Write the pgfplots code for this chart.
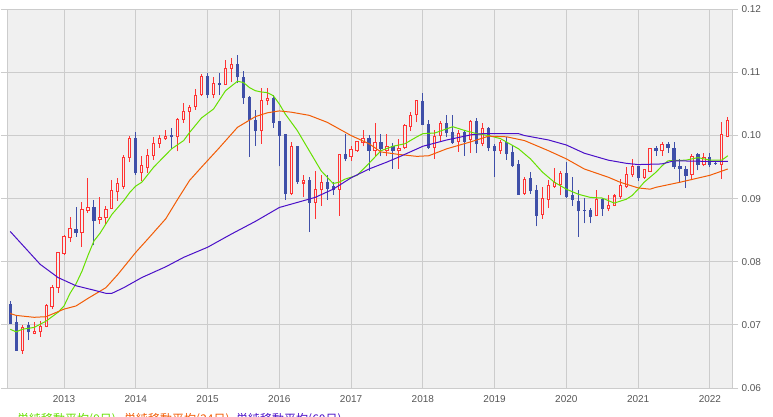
\documentclass[border=0pt]{standalone}
\usepackage{pgfplots}
\usepackage{pgfplotstable}
\pgfplotsset{compat=1.18}
\usepackage{fontspec}
\setmainfont{Liberation Sans}
\newfontfamily\cjk{Noto Sans CJK JP}
\definecolor{bgc}{HTML}{F0F0F0}
\definecolor{gridc}{HTML}{CCCCCC}
\definecolor{labc}{HTML}{555555}
\definecolor{upc}{HTML}{FF3333}
\definecolor{dnc}{HTML}{3F4FA8}
\definecolor{greenc}{HTML}{66E000}
\definecolor{orangec}{HTML}{F25C05}
\definecolor{purplec}{HTML}{4A0FC8}
\pgfplotstableread{
i o h l c
2 0.0659 0.0700 0.0654 0.0697
4 0.0686 0.0704 0.0685 0.0690
5 0.0688 0.0706 0.0681 0.0698
6 0.0697 0.0733 0.0696 0.0732
7 0.0728 0.0763 0.0725 0.0760
8 0.0758 0.0816 0.0751 0.0815
9 0.0812 0.0843 0.0811 0.0841
10 0.0837 0.0871 0.0831 0.0853
12 0.0846 0.0894 0.0824 0.0884
13 0.0881 0.0932 0.0878 0.0887
15 0.0866 0.0902 0.0860 0.0871
16 0.0869 0.0888 0.0860 0.0884
17 0.0884 0.0930 0.0884 0.0913
18 0.0910 0.0932 0.0897 0.0925
19 0.0919 0.0969 0.0915 0.0966
20 0.0965 0.1000 0.0958 0.0996
22 0.0941 0.0967 0.0928 0.0953
23 0.0948 0.0978 0.0941 0.0969
24 0.0967 0.0998 0.0962 0.0988
25 0.0987 0.1001 0.0980 0.0996
26 0.0994 0.1009 0.0993 0.0999
28 0.0997 0.1028 0.0975 0.1026
29 0.1025 0.1051 0.1020 0.1039
30 0.1037 0.1048 0.0988 0.1046
31 0.1045 0.1073 0.1041 0.1065
32 0.1064 0.1098 0.1063 0.1094
34 0.1064 0.1092 0.1059 0.1084
36 0.1080 0.1119 0.1080 0.1107
37 0.1106 0.1123 0.1085 0.1114
42 0.1007 0.1076 0.0987 0.1057
43 0.1054 0.1075 0.1048 0.1060
47 0.0907 0.0990 0.0905 0.0983
49 0.0924 0.0937 0.0903 0.0929
51 0.0893 0.0944 0.0868 0.0916
52 0.0913 0.0937 0.0889 0.0926
55 0.0914 0.0970 0.0873 0.0970
57 0.0966 0.0983 0.0960 0.0979
58 0.0975 0.0992 0.0974 0.0991
59 0.0988 0.1008 0.0983 0.0996
61 0.0975 0.1020 0.0967 0.0989
63 0.0975 0.1002 0.0967 0.0984
65 0.0975 0.0995 0.0947 0.0980
66 0.0980 0.1019 0.0979 0.1016
67 0.1014 0.1037 0.1007 0.1033
68 0.1032 0.1057 0.1021 0.1056
71 0.0980 0.1008 0.0963 0.1000
72 0.1000 0.1023 0.0992 0.1020
75 0.0990 0.1008 0.0974 0.1004
77 0.0993 0.1025 0.0972 0.1023
79 0.0987 0.1020 0.0983 0.1012
82 0.0975 0.0993 0.0971 0.0989
86 0.0908 0.0935 0.0906 0.0931
89 0.0874 0.0919 0.0868 0.0901
90 0.0898 0.0929 0.0885 0.0922
91 0.0919 0.0949 0.0917 0.0926
92 0.0922 0.0944 0.0905 0.0940
98 0.0872 0.0914 0.0872 0.0899
100 0.0883 0.0905 0.0880 0.0890
101 0.0888 0.0907 0.0888 0.0905
102 0.0902 0.0931 0.0900 0.0921
103 0.0918 0.0950 0.0917 0.0939
104 0.0937 0.0963 0.0935 0.0951
106 0.0933 0.0947 0.0931 0.0947
107 0.0943 0.0981 0.0943 0.0980
109 0.0975 0.0989 0.0968 0.0987
114 0.0938 0.0971 0.0929 0.0968
116 0.0953 0.0972 0.0951 0.0966
119 0.0954 0.1021 0.0931 0.1002
120 0.0998 0.1029 0.0997 0.1024
}\up
\pgfplotstableread{
i o h l c
0 0.0733 0.0738 0.0702 0.0702
1 0.0704 0.0714 0.0659 0.0659
3 0.0700 0.0705 0.0676 0.0688
11 0.0852 0.0886 0.0840 0.0845
14 0.0886 0.0898 0.0826 0.0864
21 0.0996 0.1005 0.0938 0.0940
27 0.1001 0.1012 0.0978 0.0997
33 0.1094 0.1099 0.1060 0.1064
35 0.1084 0.1099 0.1064 0.1080
38 0.1114 0.1127 0.1084 0.1092
39 0.1092 0.1102 0.1050 0.1059
40 0.1061 0.1062 0.0966 0.1024
41 0.1024 0.1040 0.0984 0.1007
44 0.1060 0.1065 0.1012 0.1020
45 0.1023 0.1023 0.0951 0.0999
46 0.1002 0.1002 0.0898 0.0907
48 0.0983 0.0984 0.0924 0.0926
50 0.0929 0.0935 0.0847 0.0893
53 0.0926 0.0937 0.0898 0.0915
54 0.0920 0.0926 0.0906 0.0913
56 0.0970 0.1002 0.0959 0.0963
60 0.0996 0.1001 0.0944 0.0976
62 0.0989 0.1002 0.0967 0.0979
64 0.0984 0.0988 0.0947 0.0975
69 0.1054 0.1068 0.1016 0.1017
70 0.1019 0.1024 0.0979 0.0980
73 0.1020 0.1033 0.0997 0.1004
74 0.1006 0.1033 0.0987 0.0988
76 0.1005 0.1009 0.0968 0.0990
78 0.1023 0.1028 0.0972 0.0986
80 0.1012 0.1014 0.0975 0.0980
81 0.0983 0.0986 0.0934 0.0975
83 0.0989 0.0997 0.0962 0.0970
84 0.0974 0.0985 0.0950 0.0952
85 0.0955 0.0961 0.0906 0.0906
87 0.0933 0.0942 0.0908 0.0912
88 0.0914 0.0921 0.0856 0.0873
93 0.0940 0.0958 0.0901 0.0902
94 0.0906 0.0935 0.0889 0.0898
95 0.0896 0.0913 0.0840 0.0880
96 0.0882 0.0901 0.0861 0.0881
97 0.0882 0.0885 0.0861 0.0871
99 0.0899 0.0901 0.0873 0.0883
105 0.0951 0.0952 0.0928 0.0932
108 0.0980 0.0984 0.0968 0.0975
110 0.0987 0.0990 0.0972 0.0980
111 0.0980 0.0989 0.0947 0.0950
112 0.0952 0.0963 0.0926 0.0947
113 0.0947 0.0952 0.0917 0.0936
115 0.0970 0.0972 0.0945 0.0953
117 0.0966 0.0972 0.0950 0.0953
118 0.0956 0.0960 0.0954 0.0955
}\down
\begin{document}
\begin{tikzpicture}
\path[use as bounding box] (0,0) rectangle (773pt,416pt);
\begin{axis}[
  at={(7pt,28pt)}, anchor=south west,
  width=725pt, height=378.7pt, scale only axis,
  xmin=-0.54, xmax=120.7, ymin=0.06, ymax=0.12,
  axis background/.style={fill=bgc},
  axis line style={draw=gridc, line width=1pt},
  grid=major, grid style={draw=gridc, line width=1pt},
  xtick={9,21,33,45,57,69,81,93,105,117},
  xticklabels={2013,2014,2015,2016,2017,2018,2019,2020,2021,2022},
  ytick={0.06,0.07,0.08,0.09,0.1,0.11,0.12},
  yticklabels={0.06,0.07,0.08,0.09,0.10,0.11,0.12},
  yticklabel pos=right,
  tick align=outside, major tick length=6pt,
  xtick style={draw=none},
  ytick style={draw=gridc, line width=1pt},
  /pgf/number format/assume math mode=true,
  tick label style={font=\fontsize{10}{12}\selectfont, text=labc},
  xticklabel style={yshift=2pt},
  yticklabel style={xshift=0pt},
  clip=false,
]
% wicks
\addplot[draw=none, forget plot, error bars/.cd, y dir=plus, y explicit, error mark=none,
  error bar style={draw=upc, line width=1pt}]
  table[x=i, y=l, y error plus expr=\thisrow{h}-\thisrow{l}] {\up};
\addplot[draw=none, forget plot, error bars/.cd, y dir=plus, y explicit, error mark=none,
  error bar style={draw=dnc, line width=1pt}]
  table[x=i, y=l, y error plus expr=\thisrow{h}-\thisrow{l}] {\down};
% bodies
\addplot[draw=none, forget plot, error bars/.cd, y dir=plus, y explicit, error mark=none,
  error bar style={draw=upc, line width=3.2pt}]
  table[x=i, y=o, y error plus expr={max(\thisrow{c}-\thisrow{o},0.00016)}] {\up};
\addplot[draw=none, forget plot, error bars/.cd, y dir=plus, y explicit, error mark=none,
  error bar style={draw=bgc, line width=1.2pt}]
  table[x=i, y expr=\thisrow{o}+0.00016, y error plus expr={max(\thisrow{c}-\thisrow{o}-0.00032,0)}] {\up};
\addplot[draw=none, forget plot, error bars/.cd, y dir=plus, y explicit, error mark=none,
  error bar style={draw=dnc, line width=3.2pt}]
  table[x=i, y=c, y error plus expr={max(\thisrow{o}-\thisrow{c},0.00016)}] {\down};
% moving averages
\addplot[greenc, line width=1pt] coordinates {
(0,0.0693) (1,0.0689) (2,0.0693) (4,0.0696) (6,0.0706) (8,0.0720) (9,0.0730) (10,0.0750)
(11,0.0765) (12,0.0785) (13,0.0810) (14,0.0833) (15,0.0845) (16,0.0860) (17,0.0875)
(19,0.0897) (20,0.0910) (21,0.0920) (22,0.0926) (24,0.0950) (27,0.0979) (29,0.0992)
(30,0.1005) (32,0.1028) (34,0.1042) (36,0.1071) (38,0.1086) (39,0.1084) (40,0.1076)
(41,0.1071) (42,0.1069) (43,0.1068) (44,0.1063) (45,0.1050) (46,0.1034) (48,0.1008)
(50,0.0976) (52,0.0944) (54,0.0924) (55,0.0926) (56,0.0931) (58,0.0937) (60,0.0956)
(62,0.0976) (64,0.0983) (66,0.0987) (68,0.0998) (69,0.1003) (71,0.1004) (74,0.1014)
(76,0.1008) (78,0.1003) (80,0.1000) (82,0.0995) (85,0.0979) (87,0.0963) (89,0.0942)
(91,0.0926) (93,0.0915) (95,0.0907) (97,0.0902) (99,0.0901) (101,0.0893) (103,0.0899)
(104,0.0905) (105,0.0915) (106,0.0926) (108,0.0942) (109,0.0952) (110,0.0960)
(113,0.0961) (115,0.0965) (117,0.0961) (119,0.0961) (120,0.0968)
};
\addplot[orangec, line width=1pt] coordinates {
(0,0.0718) (1,0.0715) (3,0.0713) (4,0.0712) (6,0.0713) (9,0.0725) (11,0.0730) (13,0.0742)
(16,0.0759) (18,0.0780) (21,0.0815) (23,0.0836) (26,0.0868) (28,0.0899) (30,0.0929)
(32,0.0950) (35,0.0981) (38,0.1013) (41,0.1030) (43,0.1036) (45,0.1039) (47,0.1037)
(50,0.1032) (53,0.1021) (57,0.1000) (60,0.0987) (62,0.0974) (65,0.0970) (68,0.0967)
(70,0.0968) (73,0.0979) (77,0.0990) (80,0.0999) (83,0.0998) (86,0.0992) (90,0.0976)
(93,0.0963) (96,0.0947) (100,0.0934) (102,0.0926) (105,0.0917) (107,0.0915)
(108,0.0918) (112,0.0926) (117,0.0937) (120,0.0947)
};
\addplot[purplec, line width=1pt] coordinates {
(0,0.0848) (5,0.0796) (8,0.0775) (11,0.0762) (14,0.0755) (16,0.0750) (17,0.0750)
(19,0.0759) (22,0.0775) (26,0.0792) (29,0.0807) (33,0.0823) (37,0.0844) (41,0.0864)
(45,0.0886) (51,0.0902) (54,0.0915) (57,0.0933) (60,0.0947) (63,0.0958) (65,0.0966)
(69,0.0983) (73,0.0993) (77,0.1001) (79,0.1003) (85,0.1003) (86,0.1000) (90,0.0993)
(93,0.0985) (96,0.0972) (100,0.0961) (103,0.0956) (105,0.0954) (109,0.0955)
(111,0.0960) (117,0.0959) (120,0.0959)
};
\end{axis}
\node[anchor=base west, text=greenc, font=\cjk\fontsize{12}{12}\selectfont, inner sep=0pt] at (17pt,-7pt) {単純移動平均(9日)};
\node[anchor=base west, text=orangec, font=\cjk\fontsize{12}{12}\selectfont, inner sep=0pt] at (124pt,-7pt) {単純移動平均(24日)};
\node[anchor=base west, text=purplec, font=\cjk\fontsize{12}{12}\selectfont, inner sep=0pt] at (236pt,-7pt) {単純移動平均(60日)};
\end{tikzpicture}
\end{document}
